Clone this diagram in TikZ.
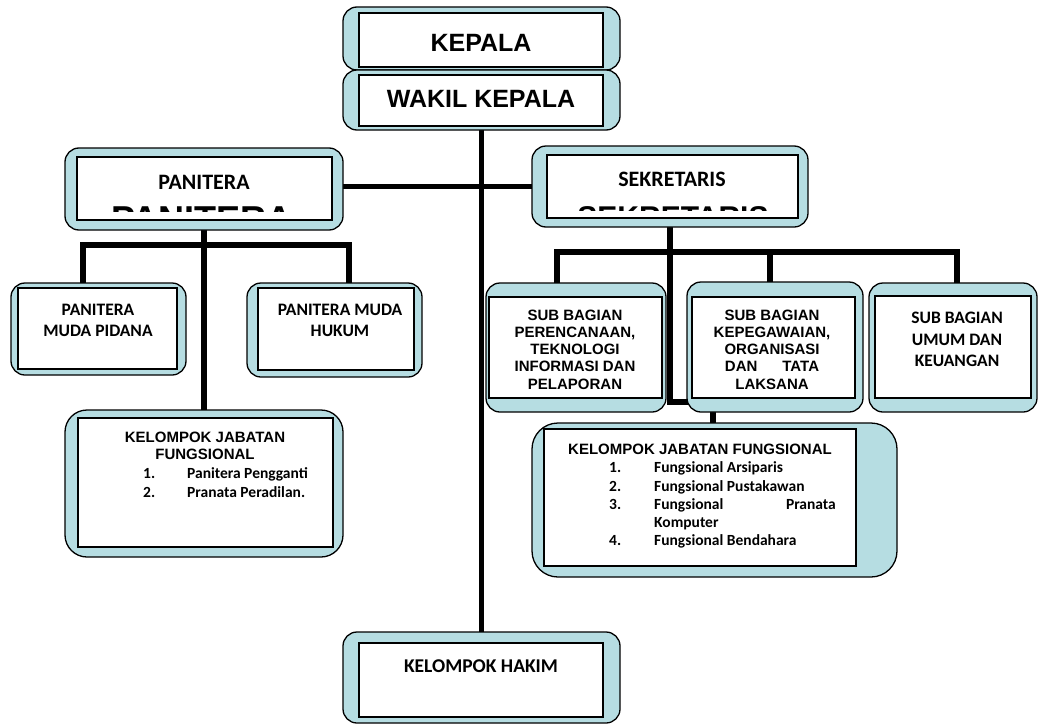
\documentclass[tikz,border=0pt]{standalone}
\usepackage{fontspec}
\setmainfont{Liberation Sans}
\newfontfamily\calib{Carlito}
\usetikzlibrary{positioning, fit, backgrounds}
\definecolor{paleblue}{RGB}{182,221,226}
\tikzset{
  shell/.style={draw, fill=paleblue, line width=1.3pt, rounded corners=#1,
    inner sep=0pt, outer sep=0pt},
  shell/.default=14pt,
  core/.style={draw, fill=white, line width=1.8pt, inner sep=0pt, outer sep=0pt},
  wire/.style={line width=5.5pt},
  ttl/.style={font=\bfseries\fontsize{25}{30}\selectfont, inner sep=0pt},
  sect/.style={font=\calib\bfseries\fontsize{22}{26}\selectfont, inner sep=0pt},
  unit/.style={font=\calib\bfseries\fontsize{17.5}{21.3}\selectfont, align=center, inner sep=0pt},
  sub/.style={font=\bfseries\fontsize{15}{17.25}\selectfont, align=center, inner sep=0pt},
  item/.style={font=\calib\bfseries\fontsize{15.5}{18}\selectfont, anchor=base west, inner sep=0pt},
  ghost/.style={font=\bfseries\fontsize{#1}{#1}\selectfont, inner sep=0pt, anchor=north}
}

\begin{document}
\begin{tikzpicture}[x=1pt, y=-1pt]
  \useasboundingbox (0,0) rectangle (1040,725);

  % ---- the two heads
  \node[shell, fit={(343,7) (620,70)}] (kep) {};
  \node[core, fit={(359,13) (603,67)}] (kep_in) {};
  \node[ttl] (kep_t) at (481,43) {KEPALA};
  \node[shell, fit={(343,70) (620,130)}] (wak) {};
  \node[core, fit={(359,75) (603,126)}] (wak_in) {};
  \node[ttl] (wak_t) at (481,99) {WAKIL KEPALA};

  % ---- panitera and sekretaris, with the cut-off big letters
  \node[shell, fit={(65,148) (343,230)}] (pan) {};
  \node[core, fit={(77,157) (332,220)}] (pan_in) {};
  \node[sect] (pan_t) at (204,182) {PANITERA};
  \node[shell, fit={(532,146) (808,227)}] (sek) {};
  \node[core, fit={(547,155) (798,218)}] (sek_in) {};
  \node[sect] (sek_t) at (672,179) {SEKRETARIS};
  \begin{scope}
    \clip (80,206) rectangle (330,211);
    \node[ghost=36] (pan_gh) at (202,207) {PANITERA};
  \end{scope}
  \begin{scope}
    \clip (550,205) rectangle (795,210);
    \node[ghost=30] (sek_gh) at (673,206) {SEKRETARIS};
  \end{scope}

  % ---- panitera muda
  \node[shell, fit={(11,283) (186,375)}] (pid) {};
  \node[core, fit={(18,288) (177,369)}] (pid_in) {};
  \node[unit] (pid_t) at (98,320.5) {PANITERA\\MUDA PIDANA};
  \node[shell, fit={(247,283) (422,377)}] (huk) {};
  \node[core, fit={(258,288) (414,370)}] (huk_in) {};
  \node[unit] (huk_t) at (340,320.5) {PANITERA MUDA\\HUKUM};

  % ---- sub bagian
  \node[shell, fit={(486,283) (666,412)}] (ren) {};
  \node[core, fit={(489,297) (662,398)}] (ren_in) {};
  \node[sub] (ren_t) at (575,349.5)
    {SUB BAGIAN\\PERENCANAAN,\\TEKNOLOGI\\INFORMASI DAN\\PELAPORAN};
  \node[shell, fit={(687,282) (863,412)}] (peg) {};
  \node[core, fit={(692,297) (855,398)}] (peg_in) {};
  \node[sub] (peg_t) at (772,349.5)
    {SUB BAGIAN\\KEPEGAWAIAN,\\ORGANISASI\\DAN\hspace{25pt}TATA\\LAKSANA};
  \node[shell, fit={(869,283) (1037,412)}] (umum) {};
  \node[core, fit={(875,296) (1031,398)}] (umum_in) {};
  \node[unit] (umum_t) at (957,339.5) {SUB BAGIAN\\UMUM DAN\\KEUANGAN};

  % ---- kelompok jabatan fungsional, left
  \node[shell=22pt, fit={(65,410) (343,557)}] (kjfL) {};
  \node[core, fit={(78,418) (333,547)}] (kjfL_in) {};
  \node[sub] (kjfL_t) at (205,445.5) {KELOMPOK JABATAN\\FUNGSIONAL};
  \node[item] (kjfL_n1) at (143,478) {1.};
  \node[item] (kjfL_i1) at (187,478) {Panitera Pengganti};
  \node[item] (kjfL_n2) at (143,497) {2.};
  \node[item] (kjfL_i2) at (187,497) {Pranata Peradilan.};

  % ---- kelompok jabatan fungsional, right
  \node[shell=26pt, fit={(532,423) (897,577)}] (kjfR) {};
  \node[core, fit={(544,429) (856,566)}] (kjfR_in) {};
  \node[sub] (kjfR_t) at (700,449) {KELOMPOK JABATAN FUNGSIONAL};
  \foreach \n/\y/\t in {1/472/Fungsional Arsiparis, 2/491/Fungsional Pustakawan,
                        4/545/Fungsional Bendahara} {
    \node[item] (kjfR_n\n) at (609,\y) {\n.};
    \node[item] (kjfR_i\n) at (654,\y) {\t};
  }
  \node[item] (kjfR_n3) at (609,509) {3.};
  \node[item] (kjfR_i3) at (654,509) {Fungsional};
  \node[item, anchor=base east] (kjfR_p3) at (836,509) {Pranata};
  \node[item] (kjfR_k3) at (654,527) {Komputer};

  % ---- hakim
  \node[shell, fit={(343,632) (620,723)}] (hakim) {};
  \node[core, fit={(359,643) (603,717)}] (hakim_in) {};
  \node[font=\calib\bfseries\fontsize{19.5}{23}\selectfont, inner sep=0pt]
    (hakim_t) at (481,666) {KELOMPOK HAKIM};

  % ================= the wiring, behind the boxes ==============================
  \coordinate (lbus) at (204,245);
  \coordinate (rbus) at (670,252);
  \coordinate (bend) at (670,402);
  \begin{scope}[on background layer]
    \draw[wire] (wak.south) -- (hakim.north);
    \draw[wire] (pan.east |- sek.west) -- (sek.west);
    \draw[wire] (pan.south) -- (kjfL.north);
    \draw[wire] (pid.north -| 83,0) |- (lbus) -| (huk.north -| 349,0);
    \draw[wire] (ren.north -| 557,0) |- (rbus) -| (umum.north -| 957,0);
    \draw[wire] (peg.north -| 770,0) -- (rbus -| 770,0);
    \draw[wire] (sek.south) -- (bend) -| (kjfR.north -| 713,0);
  \end{scope}

\end{tikzpicture}
\end{document}
